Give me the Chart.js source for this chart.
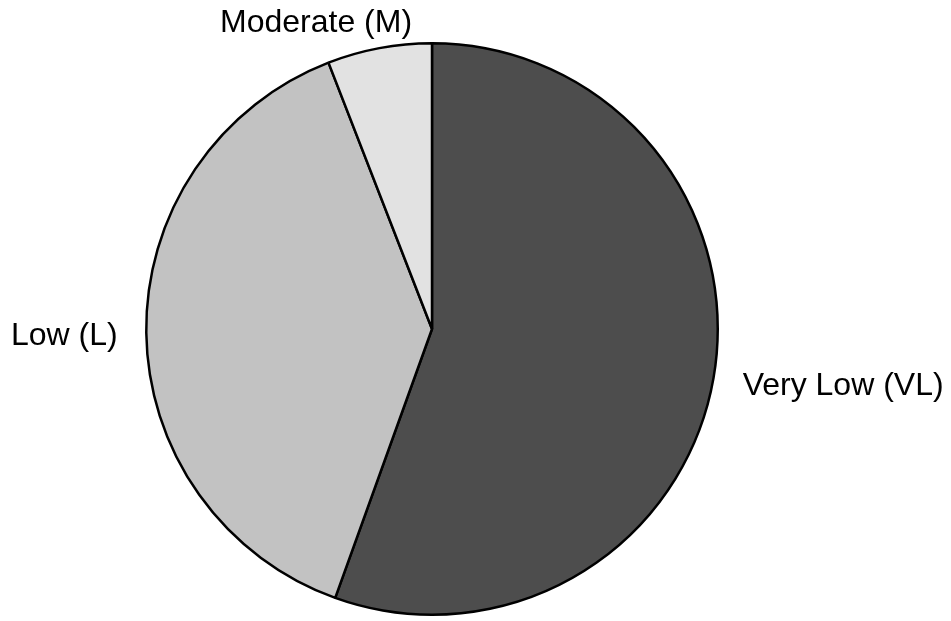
<!DOCTYPE html>
<html>
<head>
<meta charset="utf-8">
<style>
  html, body { margin: 0; padding: 0; background: #ffffff; }
  #wrap { width: 951px; height: 621px; }
</style>
<script src="https://cdn.jsdelivr.net/npm/chart.js@4.4.0/dist/chart.umd.min.js"></script>
</head>
<body>
<div id="wrap"><canvas id="pie"></canvas></div>
<script>
// ─── Data ───
const categories = ['Very Low (VL)', 'Low (L)', 'Moderate (M)'];
const shares = [55.5, 38.6, 5.9];
const sliceColors = ['#4d4d4d', '#c2c2c2', '#e2e2e2'];

// ─── Outside labels (R-style: 1.1 × radius at mid angle) ───
const outsideLabels = {
  id: 'outsideLabels',
  afterDatasetsDraw(chart, args, opts) {
    const { ctx } = chart;
    const arcs = chart.getDatasetMeta(0).data;
    ctx.save();
    ctx.font = opts.font;
    ctx.fillStyle = '#000000';
    ctx.textBaseline = 'middle';
    arcs.forEach((arc, i) => {
      const mid = (arc.startAngle + arc.endAngle) / 2;
      const r = arc.outerRadius * 1.1;
      const nudge = (opts.nudge && opts.nudge[i]) || 0;
      const x = arc.x + r * Math.cos(mid) + nudge;
      const y = arc.y + r * Math.sin(mid) + opts.dy;
      ctx.textAlign = Math.cos(mid) < 0 ? 'right' : 'left';
      ctx.fillText(chart.data.labels[i], x, y);
    });
    ctx.restore();
  },
};

new Chart(document.getElementById('pie'), {
  type: 'pie',
  data: {
    labels: categories,
    datasets: [{
      data: shares,
      backgroundColor: sliceColors,
      borderColor: '#000000',
      borderWidth: 2.5,
      hoverOffset: 0,
    }],
  },
  options: {
    responsive: true,
    maintainAspectRatio: false,
    animation: false,
    layout: { padding: { top: 42, bottom: 5, left: 145, right: 232 } },
    plugins: {
      legend: { display: false },
      tooltip: { enabled: false },
      outsideLabels: { font: "32px 'Liberation Sans', Arial, sans-serif", dy: 3, nudge: [1, 0, 38] },
    },
  },
  plugins: [outsideLabels],
});
</script>
</body>
</html>
